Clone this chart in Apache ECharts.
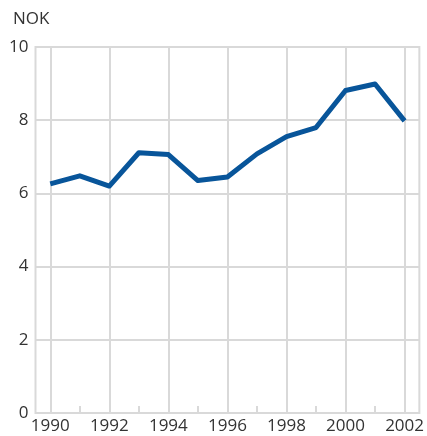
<!DOCTYPE html>
<html lang="en">
<head>
    <meta charset="UTF-8">
    <title>NOK</title>
    <script src="https://cdn.jsdelivr.net/npm/echarts@6/dist/echarts.min.js"></script>
    <style>
        html, body { margin: 0; padding: 0; background: #fff; }
        #chart { width: 427px; height: 436px; }
    </style>
</head>
<body>
<div id="chart"></div>
<script>
    var years = ['1990', '1991', '1992', '1993', '1994', '1995', '1996',
        '1997', '1998', '1999', '2000', '2001', '2002'];
    var nokValues = [6.26, 6.48, 6.2, 7.11, 7.06, 6.35, 6.45, 7.08, 7.55, 7.8, 8.81, 8.99, 7.98];
    var yTicks = [0, 2, 4, 6, 8, 10];

    var gridColor = '#d9d9d9';
    var textColor = '#333333';

    var myChart = echarts.init(document.getElementById('chart'));

    var option = {
        animation: false,
        textStyle: {
            fontFamily: 'Open Sans'
        },
        title: {
            text: 'NOK',
            left: 8,
            top: 6,
            textStyle: {
                fontSize: 17,
                fontWeight: 'normal',
                color: textColor
            }
        },
        grid: {
            left: 35.5,
            right: 7,
            top: 47,
            bottom: 23,
            show: true,
            borderColor: gridColor,
            borderWidth: 2
        },
        xAxis: {
            type: 'category',
            data: years,
            boundaryGap: true,
            axisLine: { show: false },
            axisTick: {
                show: true,
                inside: true,
                length: 7,
                interval: 0,
                alignWithLabel: true,
                lineStyle: { color: gridColor, width: 2 }
            },
            axisLabel: {
                interval: 1,
                fontSize: 17,
                color: textColor,
                margin: 5
            },
            splitLine: {
                show: true,
                interval: 1,
                alignWithLabel: true,
                lineStyle: { color: gridColor, width: 2 }
            }
        },
        yAxis: {
            type: 'value',
            min: yTicks[0],
            max: yTicks[yTicks.length - 1],
            interval: 2,
            axisLine: { show: false },
            axisTick: { show: false },
            axisLabel: {
                fontSize: 17,
                color: textColor,
                margin: 7
            },
            splitLine: {
                show: true,
                lineStyle: { color: gridColor, width: 2 }
            }
        },
        series: [{
            name: 'NOK',
            type: 'line',
            data: nokValues,
            symbol: 'none',
            lineStyle: {
                color: '#08559a',
                width: 5,
                join: 'round'
            }
        }]
    };

    myChart.setOption(option);
</script>
</body>
</html>
